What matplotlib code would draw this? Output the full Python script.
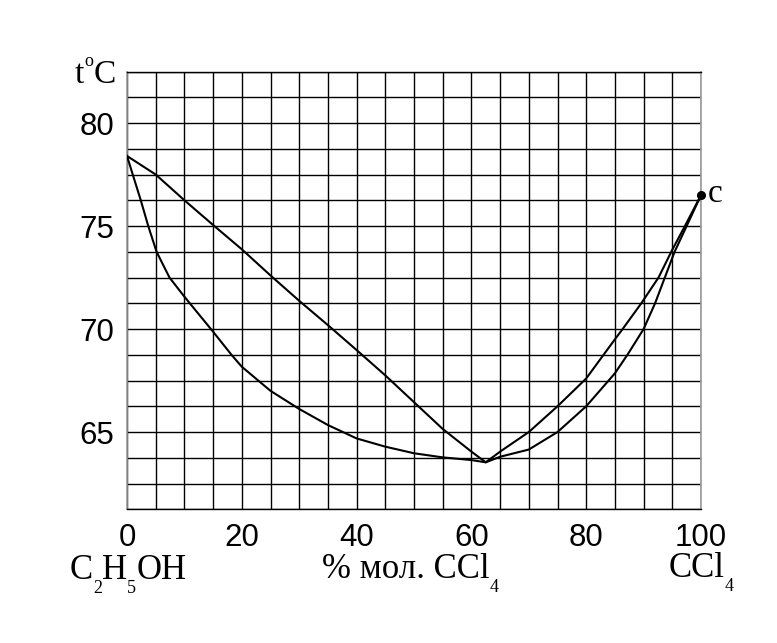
import matplotlib
matplotlib.use("Agg")
import matplotlib.pyplot as plt
import numpy as np

# ---- data ----
vapor_x = [0, 5, 10, 15, 20, 25, 30, 35, 40, 45, 50, 55, 60, 62.5,
           65, 70, 75, 80, 85, 86.35, 89.6, 92.6, 95, 97.2, 100]
vapor_t = [78.4, 77.5, 76.25, 75.05, 73.87, 72.6, 71.37, 70.19, 68.98, 67.75,
           66.45, 65.15, 64.05, 63.53,
           64.05, 65.0, 66.25, 67.6, 69.5, 70.0, 71.25, 72.5, 73.85, 75.0, 76.5]

liquid_x = [0, 1, 2.4, 3.7, 5.15, 7.4, 10, 15, 18.2, 20, 25, 30, 35, 40,
            45, 50, 55, 60, 62.5,
            65, 70, 75, 80, 85, 87.3, 90, 92.0, 93.7, 95.4, 97.5, 100]
liquid_t = [78.4, 77.5, 76.25, 75.0, 73.75, 72.5, 71.57, 69.87, 68.75, 68.17, 67.0,
            66.12, 65.34, 64.69, 64.29, 63.97, 63.77, 63.64, 63.53,
            63.8, 64.15, 65.0, 66.25, 67.85, 68.8, 70.0, 71.25, 72.5, 73.75, 75.0, 76.5]

point_c = (100, 76.5)

x_ticks = [0, 20, 40, 60, 80, 100]
y_ticks = [65, 70, 75, 80]
x_grid_step = 5
y_grid_step = 1.25
x_lim = (0, 100)
y_lim = (61.25, 82.5)

W, H = 777, 643
fig = plt.figure(figsize=(W / 100, H / 100), dpi=100)
ax = fig.add_axes([127 / W, (H - 509.3) / H, (701 - 127) / W, (509.3 - 71.5) / H])

ax.set_xlim(*x_lim)
ax.set_ylim(*y_lim)

# grid
for gx in np.arange(x_lim[0], x_lim[1] + 0.01, x_grid_step):
    ax.axvline(gx, color="black", lw=1.0, zorder=1)
for gy in np.arange(y_lim[0], y_lim[1] + 0.01, y_grid_step):
    ax.axhline(gy, color="black", lw=1.0, zorder=1)

ax.plot(vapor_x, vapor_t, color="black", lw=1.5, zorder=3, solid_joinstyle="round")
ax.plot(liquid_x, liquid_t, color="black", lw=1.5, zorder=3, solid_joinstyle="round")
ax.plot([point_c[0]], [point_c[1]], "o", color="black", ms=5.5, zorder=4, clip_on=False)
ax.annotate("c", xy=point_c, xytext=(5, -5), textcoords="offset points",
            family="Liberation Serif", fontsize=24, va="baseline", ha="left")

ax.set_xticks(x_ticks)
ax.set_yticks(y_ticks)
ax.set_xticklabels([str(v) for v in x_ticks], family="Liberation Sans", fontsize=22.5)
ax.set_yticklabels([str(v) for v in y_ticks], family="Liberation Sans", fontsize=22.5)
ax.tick_params(axis="x", length=0, pad=10)
ax.tick_params(axis="y", length=0, pad=9)

for s in ["left", "right"]:
    ax.spines[s].set_color("#999999")
    ax.spines[s].set_linewidth(1.2)
for s in ["top", "bottom"]:
    ax.spines[s].set_color("black")
    ax.spines[s].set_linewidth(1.0)

# ---- labels built from pieces (pixel positions, image y from top) ----
renderer = fig.canvas.get_renderer()

def pieces(x0, base_y, parts, size=25, subsize=13, drop=14, supsize=13, rise=17):
    x = x0
    for txt, kind in parts:
        if kind == "sub":
            y = base_y + drop
            fs = subsize
        elif kind == "sup":
            y = base_y - rise
            fs = supsize
        else:
            y = base_y
            fs = size
        t = fig.text(x, H - y, txt, transform=None, family="Liberation Serif",
                     fontsize=fs, va="baseline", ha="left")
        bb = t.get_window_extent(renderer)
        x += bb.width

pieces(75, 83, [("t", "n"), ("o", "sup"), ("C", "n")], size=24)
pieces(70, 579, [("C", "n"), ("2", "sub"), ("H", "n"), ("5", "sub"), ("OH", "n")])
pieces(322, 578, [("% мол. CCl", "n"), ("4", "sub")])
pieces(669, 577, [("CCl", "n"), ("4", "sub")])

fig.savefig("out.png", dpi=100)
